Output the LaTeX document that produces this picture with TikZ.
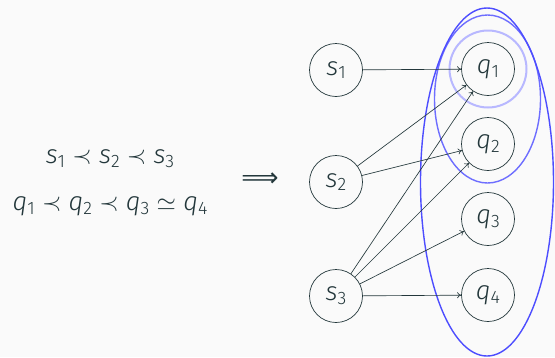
\documentclass[tikz,border=0pt]{standalone}
\usepackage{fontspec}
\setmainfont{Fira Sans}[UprightFont={* Light}, ItalicFont={* Light Italic}]
\newfontfamily\symfont{DejaVu Sans}
\usetikzlibrary{arrows.meta}
\definecolor{mtext}{HTML}{23373B}
\definecolor{mbg}{HTML}{FAFAFA}
\definecolor{bout}{HTML}{4D4DFF}
\definecolor{bmid}{HTML}{6E6EFF}
\definecolor{bin}{HTML}{B8B8FF}
\newcommand{\vv}[2]{{\itshape #1}\raisebox{-0.28ex}{\fontsize{18}{18}\selectfont #2}}
\begin{document}
\begin{tikzpicture}[x=1pt,y=-1pt,
  every node/.style={text=mtext},
  st/.style={circle,draw=mtext,line width=0.7pt,minimum size=53pt,inner sep=0pt,font=\fontsize{26}{30}\selectfont},
  ed/.style={draw=mtext,line width=0.65pt,-{To[length=4pt,width=6pt]}},
  txt/.style={font=\fontsize{26}{30}\selectfont,inner sep=1pt}]
\useasboundingbox[fill=mbg] (0,0) rectangle (555,357);
\node[st] (s1) at (336,70) {\vv{s}{1}};
\node[st] (s2) at (336,182) {\vv{s}{2}};
\node[st] (s3) at (336,296) {\vv{s}{3}};
\node[st] (q1) at (488,69) {\vv{q}{1}};
\node[st] (q2) at (488,144) {\vv{q}{2}};
\node[st] (q3) at (488,219) {\vv{q}{3}};
\node[st] (q4) at (488,295) {\vv{q}{4}};
\draw[bin,line width=2pt] (q1.center) circle[radius=38.5pt];
\draw[bmid,line width=1.4pt] (487.5,99) ellipse[x radius=53pt,y radius=84pt];
\draw[bout,line width=1.4pt] (487,182) ellipse[x radius=66.5pt,y radius=174pt];
\draw[ed] (s1) -- (q1);
\draw[ed] (s2) -- (q1);
\draw[ed] (s2) -- (q2);
\draw[ed] (s3) -- (q1);
\draw[ed] (s3) -- (q2);
\draw[ed] (s3) -- (q3);
\draw[ed] (s3) -- (q4);
\node[txt] (l1) at (110,159) {\vv{s}{1} $\prec$ \vv{s}{2} $\prec$ \vv{s}{3}};
\node[txt] (l2) at (110,206) {\vv{q}{1} $\prec$ \vv{q}{2} $\prec$ \vv{q}{3} $\simeq$ \vv{q}{4}};
\node[font=\fontsize{26}{30}\symfont,inner sep=1pt] (imp) at (260,180) {⟹};
\end{tikzpicture}
\end{document}
